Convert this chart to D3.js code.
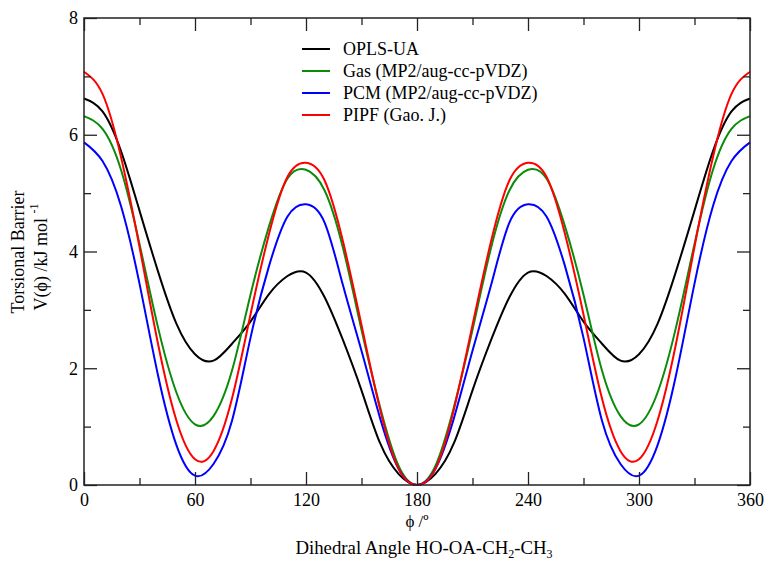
<!DOCTYPE html>
<html><head><meta charset="utf-8">
<script src="https://cdn.jsdelivr.net/npm/d3@7"></script>
<style>
html,body{margin:0;padding:0;background:#fff;}
text{font-family:"Liberation Serif","Times New Roman",serif;}
</style></head>
<body><svg id="c" width="764" height="564"></svg>
<script>
const angles = d3.range(0, 361, 10);
const seriesNames = ["OPLS-UA", "Gas (MP2/aug-cc-pVDZ)", "PCM (MP2/aug-cc-pVDZ)", "PIPF (Gao. J.)"];
const seriesColors = ["#000000", "#0a8c0a", "#0000ff", "#ff0000"];
const oplsUA = [6.62,6.40,5.72,4.70,3.66,2.76,2.24,2.13,2.42,2.80,3.27,3.58,3.64,3.22,2.48,1.62,0.72,0.19,0.00,
                0.19,0.72,1.62,2.48,3.22,3.64,3.58,3.27,2.80,2.42,2.13,2.24,2.76,3.66,4.70,5.72,6.40,6.62];
const gasMP2 = [6.32,6.10,5.40,4.13,2.70,1.58,1.04,1.18,1.96,3.26,4.43,5.25,5.40,5.05,4.06,2.66,1.34,0.33,0.00,
                0.33,1.34,2.66,4.06,5.05,5.40,5.25,4.43,3.26,1.96,1.18,1.04,1.58,2.70,4.13,5.40,6.10,6.32];
const pcmMP2 = [5.87,5.55,4.78,3.45,1.88,0.68,0.16,0.36,1.10,2.52,3.75,4.60,4.81,4.50,3.42,2.30,1.15,0.28,0.00,
                0.28,1.15,2.30,3.42,4.50,4.81,4.60,3.75,2.52,1.10,0.36,0.16,0.68,1.88,3.45,4.78,5.55,5.87];
const pipf   = [7.08,6.70,5.62,4.08,2.42,1.10,0.44,0.58,1.48,2.92,4.30,5.28,5.52,5.22,4.17,2.74,1.30,0.28,0.00,
                0.28,1.30,2.74,4.17,5.22,5.52,5.28,4.30,2.92,1.48,0.58,0.44,1.10,2.42,4.08,5.62,6.70,7.08];
const xTicks = [0, 60, 120, 180, 240, 300, 360];
const yTicks = [0, 2, 4, 6, 8];

const seriesValues = [oplsUA, gasMP2, pcmMP2, pipf];

const svg = d3.select("#c");
const L = 84, R = 750, T = 18, B = 485;
const x = d3.scaleLinear().domain([0, 360]).range([L, R]);
const y = d3.scaleLinear().domain([0, 8]).range([B, T]);
const SERIF = '"Liberation Serif","Times New Roman",serif';

const g = svg.append("g");
const line = d3.line().x(d => x(d[0])).y(d => y(d[1])).curve(d3.curveNatural);

seriesValues.forEach((vals, i) => {
  g.append("path")
    .datum(angles.map((a, j) => [a, vals[j]]))
    .attr("fill", "none")
    .attr("stroke", seriesColors[i])
    .attr("stroke-width", 2)
    .attr("d", line);
});

// frame
svg.append("rect").attr("x", L).attr("y", T).attr("width", R - L).attr("height", B - T)
  .attr("fill", "none").attr("stroke", "#222").attr("stroke-width", 1.5);

const fs = 18;
const xMinor = d3.range(30, 360, 60);
const yMinor = d3.range(1, 8, 2);
function addAxis(axis, tr) {
  const a = svg.append("g").attr("transform", tr).call(axis);
  a.attr("font-family", null);
  a.select(".domain").remove();
  a.selectAll("line").attr("stroke", "#222").attr("stroke-width", 1.3);
  a.selectAll("text").style("font-family", SERIF).attr("font-size", fs).attr("fill", "#000");
  return a;
}
addAxis(d3.axisBottom(x).tickValues(xTicks).tickSize(-13).tickPadding(8).tickFormat(d3.format("d")), `translate(0,${B})`);
addAxis(d3.axisBottom(x).tickValues(xMinor).tickSize(-7).tickFormat(""), `translate(0,${B})`);
addAxis(d3.axisTop(x).tickValues(xTicks).tickSize(-13).tickFormat(""), `translate(0,${T})`);
addAxis(d3.axisTop(x).tickValues(xMinor).tickSize(-7).tickFormat(""), `translate(0,${T})`);
addAxis(d3.axisLeft(y).tickValues(yTicks).tickSize(-13).tickPadding(6).tickFormat(d3.format("d")), `translate(${L},0)`);
addAxis(d3.axisLeft(y).tickValues(yMinor).tickSize(-7).tickFormat(""), `translate(${L},0)`);
addAxis(d3.axisRight(y).tickValues(yTicks).tickSize(-13).tickFormat(""), `translate(${R},0)`);
addAxis(d3.axisRight(y).tickValues(yMinor).tickSize(-7).tickFormat(""), `translate(${R},0)`);

// axis labels
svg.append("text").attr("x", x(180)).attr("y", 527).attr("text-anchor", "middle")
  .attr("font-size", 17).text("\u03D5 /\u00BA");
const dl = svg.append("text").attr("x", x(180) + 7).attr("y", 554).attr("text-anchor", "middle").attr("font-size", 18.8);
dl.append("tspan").text("Dihedral Angle HO-OA-CH");
dl.append("tspan").attr("font-size", 12).attr("dy", 4).text("2");
dl.append("tspan").attr("dy", -4).text("-CH");
dl.append("tspan").attr("font-size", 12).attr("dy", 4).text("3");

svg.append("text").attr("transform", "translate(24,252) rotate(-90)").attr("text-anchor", "middle")
  .attr("font-size", fs).text("Torsional Barrier");
const vl = svg.append("text").attr("transform", "translate(47,257) rotate(-90)").attr("text-anchor", "middle")
  .attr("font-size", fs);
vl.append("tspan").text("V(\u03D5) /kJ mol ");
vl.append("tspan").attr("font-size", 12).attr("dy", -9).text("-1");

// legend
const legY = [49, 71, 93, 115];
seriesNames.forEach((n, i) => {
  svg.append("line").attr("x1", 302).attr("x2", 330).attr("y1", legY[i]).attr("y2", legY[i])
    .attr("stroke", seriesColors[i]).attr("stroke-width", 2);
  svg.append("text").attr("x", 343).attr("y", legY[i] + 6).attr("font-size", fs).text(n);
});
</script></body></html>
